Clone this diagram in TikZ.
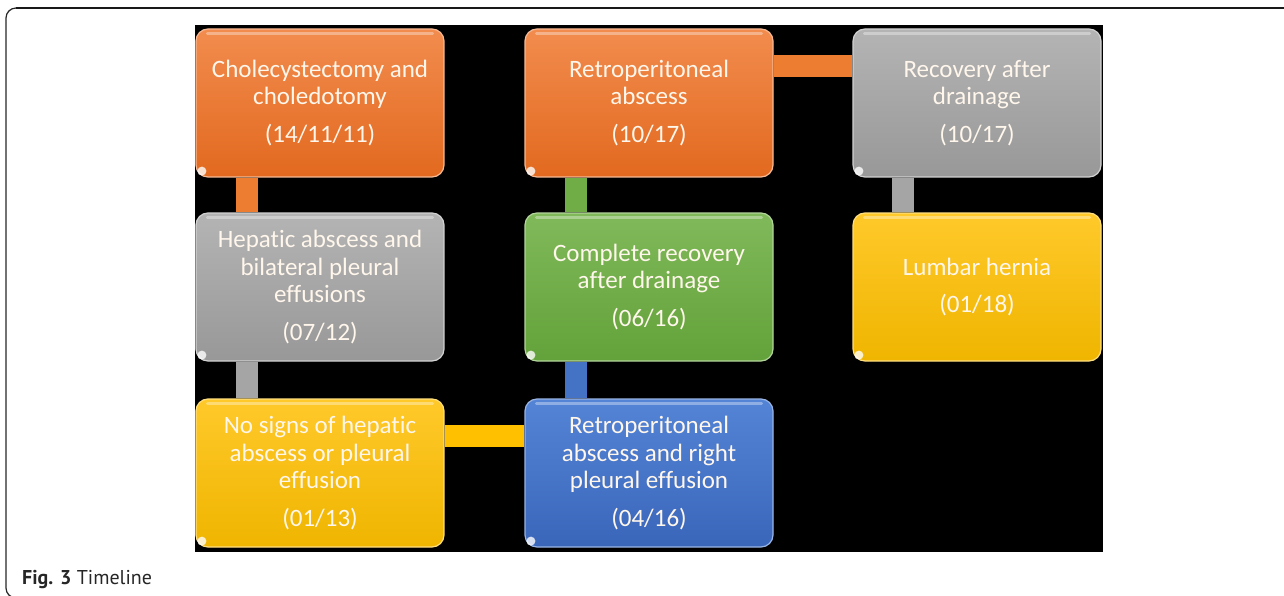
\documentclass[tikz,border=0pt]{standalone}
\usepackage{fontspec}
\setmainfont{Carlito}[Ligatures=NoCommon, Contextuals=NoAlternate, RawFeature={-liga;-clig;-calt;-dlig}]
\newfontfamily\capfont{PT Sans}
\usetikzlibrary{backgrounds}
\definecolor{cOrT}{HTML}{F28C4E}
\definecolor{cOrB}{HTML}{E2691F}
\definecolor{cOr}{HTML}{ED7D31}
\definecolor{cGrT}{HTML}{B4B4B4}
\definecolor{cGrB}{HTML}{989898}
\definecolor{cGr}{HTML}{A5A5A5}
\definecolor{cYeT}{HTML}{FFC92A}
\definecolor{cYeB}{HTML}{EFB500}
\definecolor{cYe}{HTML}{FFC000}
\definecolor{cBlT}{HTML}{5484D6}
\definecolor{cBlB}{HTML}{3A66BA}
\definecolor{cBl}{HTML}{4472C4}
\definecolor{cGnT}{HTML}{80B95A}
\definecolor{cGnB}{HTML}{63A23A}
\definecolor{cGn}{HTML}{70AD47}
\definecolor{txt}{HTML}{FFF6EC}
\tikzset{
  evbox/.style={rounded corners=12pt, minimum width=248pt, minimum height=148pt,
    inner sep=0pt, align=center, text=txt, line width=1.2pt,
    font=\fontsize{25}{27.5}\selectfont},
  orbox/.style={evbox, top color=cOrT, bottom color=cOrB, draw=cOrT!60!white},
  grbox/.style={evbox, top color=cGrT, bottom color=cGrB, draw=cGrT!60!white},
  yebox/.style={evbox, top color=cYeT, bottom color=cYeB, draw=cYeT!60!white},
  blbox/.style={evbox, top color=cBlT, bottom color=cBlB, draw=cBlT!60!white},
  gnbox/.style={evbox, top color=cGnT, bottom color=cGnB, draw=cGnT!60!white},
  bar/.style={line width=22pt, draw=#1},
  frame/.style={draw=black!85, line width=1.2pt, rounded corners=10pt},
  gloss/.style={white, opacity=.35, line width=3pt, line cap=round},
}
\begin{document}
\begin{tikzpicture}[x=1pt, y=-1pt]
\useasboundingbox (0,0) rectangle (1284,596);
% outer frame
\draw[frame] (1290,8) -- (6,8) -- (6,598) -- (1290,598);
\draw[black!90, line width=2.4pt] (1290,8) -- (16,8);
% event boxes
\node[orbox] (b1) at (320,103) {Cholecystectomy and\\choledotomy\\[10pt](14/11/11)};
\node[grbox] (b2) at (320,287) {Hepatic abscess and\\bilateral pleural\\effusions\\[10pt](07/12)};
\node[yebox] (b3) at (320,473) {No signs of hepatic\\abscess or pleural\\effusion\\[10pt](01/13)};
\node[blbox] (b4) at (649,473) {Retroperitoneal\\abscess and right\\pleural effusion\\[10pt](04/16)};
\node[gnbox] (b5) at (649,287) {Complete recovery\\after drainage\\[10pt](06/16)};
\node[orbox] (b6) at (649,103) {Retroperitoneal\\abscess\\[10pt](10/17)};
\node[grbox] (b7) at (977,103) {Recovery after\\drainage\\[10pt](10/17)};
\node[yebox] (b8) at (977,287) {Lumbar hernia\\[10pt](01/18)};
% bevel highlights
\foreach \n in {b1,b2,b3,b4,b5,b6,b7,b8}{
  \fill[white, opacity=.8] ([shift={(6.5pt,6.5pt)}]\n.south west) circle (4.5pt);
  \draw[gloss] ([shift={(12pt,-5pt)}]\n.north west) -- ([shift={(-12pt,-5pt)}]\n.north east);
}
% black panel and connectors
\begin{pgfonlayer}{background}
\fill[black] (195,25) rectangle (1103,552);
\draw[bar=cOr] ([xshift=-73pt]b1.south) -- ([xshift=-73pt]b2.north);
\draw[bar=cGr] ([xshift=-73pt]b2.south) -- ([xshift=-73pt]b3.north);
\draw[bar=cYe] ([yshift=37pt]b3.east) -- ([yshift=37pt]b4.west);
\draw[bar=cBl] ([xshift=-73pt]b4.north) -- ([xshift=-73pt]b5.south);
\draw[bar=cGn] ([xshift=-73pt]b5.north) -- ([xshift=-73pt]b6.south);
\draw[bar=cOr] ([yshift=37pt]b6.east) -- ([yshift=37pt]b7.west);
\draw[bar=cGr] ([xshift=-74pt]b7.south) -- ([xshift=-74pt]b8.north);
\end{pgfonlayer}
% caption
\node[anchor=base west, inner sep=0pt, font=\capfont\fontsize{20}{22}\selectfont, text=black!85] (cap) at (22,584) {\textbf{Fig. 3} Timeline};
\end{tikzpicture}
\end{document}
